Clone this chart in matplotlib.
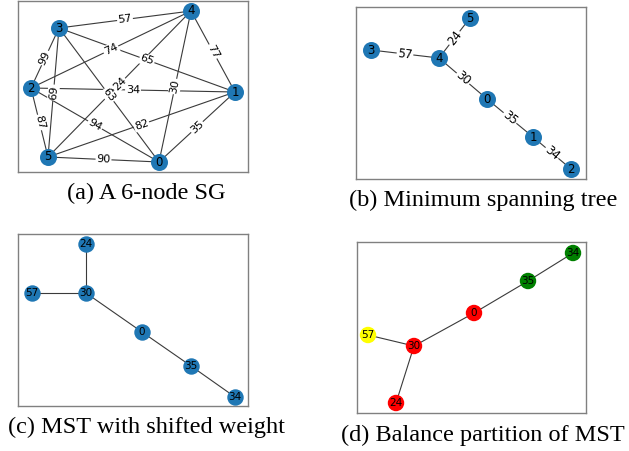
import matplotlib
matplotlib.use("Agg")
import matplotlib.pyplot as plt
import numpy as np

W, H = 629, 451

# node positions (pixel layout inside each panel), edges and weights
pos_a = {0: (159, 162), 1: (235, 92), 2: (31, 88), 3: (59, 28), 4: (191, 11), 5: (48, 157)}
edges_a = [(0, 1), (0, 2), (0, 3), (0, 4), (0, 5), (1, 2), (1, 3), (1, 4), (1, 5),
           (2, 3), (2, 4), (2, 5), (3, 4), (3, 5), (4, 5)]
weights_a = [35, 94, 63, 30, 90, 34, 65, 77, 82, 99, 74, 87, 57, 69, 24]

pos_b = {5: (470, 18), 3: (371, 50), 4: (439, 58), 0: (487, 99), 1: (533, 137), 2: (571, 169)}
edges_b = [(3, 4), (4, 5), (4, 0), (0, 1), (1, 2)]
weights_b = [57, 24, 30, 35, 34]

pos_c = {"24": (86, 244), "57": (32, 293), "30": (86, 293), "0": (142, 332),
         "35": (191, 366), "34": (235, 397)}
edges_c = [("24", "30"), ("57", "30"), ("30", "0"), ("0", "35"), ("35", "34")]

pos_d = {"34": (573, 253), "35": (528, 281), "0": (474, 313), "57": (368, 335),
         "30": (414, 346), "24": (396, 403)}
edges_d = [("34", "35"), ("35", "0"), ("0", "30"), ("30", "57"), ("30", "24")]
colors_d = {"34": "green", "35": "green", "0": "red", "57": "yellow", "30": "red", "24": "red"}

captions = ["(a) A 6-node SG", "(b) Minimum spanning tree",
            "(c) MST with shifted weight", "(d) Balance partition of MST"]

# panel frames in pixels: x0, x1, y0, y1 and caption centers
frames = [(18, 248, 1, 172), (356, 586, 7, 179), (18, 248, 234, 406), (357, 586, 242, 413)]
cap_xy = [(146, 193), (483, 200), (146, 427), (483, 435)]

fig = plt.figure(figsize=(W / 100, H / 100), dpi=100)


def make_ax(fr):
    x0, x1, y0, y1 = fr
    ax = fig.add_axes([x0 / W, 1 - y1 / H, (x1 - x0) / W, (y1 - y0) / H])
    ax.set_xlim(x0, x1)
    ax.set_ylim(y1, y0)
    ax.set_xticks([])
    ax.set_yticks([])
    for s in ax.spines.values():
        s.set_color("#808080")
        s.set_linewidth(1.0)
    return ax


def draw(ax, pos, edges, colors=None, node_s=120, font=7.5, weights=None, efont=7.5):
    for k, (u, v) in enumerate(edges):
        (x1, y1), (x2, y2) = pos[u], pos[v]
        ax.plot([x1, x2], [y1, y2], color="#3a3a3a", lw=0.8, zorder=1)
        if weights is not None:
            ang = np.degrees(np.arctan2(-(y2 - y1), x2 - x1))
            if ang > 90:
                ang -= 180
            if ang < -90:
                ang += 180
            ax.text((x1 + x2) / 2, (y1 + y2) / 2, str(weights[k]), fontsize=efont,
                    rotation=ang, rotation_mode="anchor", ha="center", va="center",
                    bbox=dict(boxstyle="round,pad=0.08", fc="white", ec="none"), zorder=2)
    names = list(pos.keys())
    xs = [pos[n][0] for n in names]
    ys = [pos[n][1] for n in names]
    cs = [colors[n] for n in names] if colors else "#1f77b4"
    ax.scatter(xs, ys, s=node_s, c=cs, zorder=3, linewidths=0)
    for n in names:
        ax.text(pos[n][0], pos[n][1], str(n), fontsize=font, ha="center", va="center", zorder=4)


axa = make_ax(frames[0])
draw(axa, pos_a, edges_a, weights=weights_a, node_s=150, font=8.5, efont=8)
axb = make_ax(frames[1])
draw(axb, pos_b, edges_b, weights=weights_b, node_s=150, font=8.5, efont=8.5)
axc = make_ax(frames[2])
draw(axc, pos_c, edges_c, node_s=140, font=7.5)
axd = make_ax(frames[3])
draw(axd, pos_d, edges_d, colors=colors_d, node_s=140, font=7.5)

for txt, (cx, cy) in zip(captions, cap_xy):
    fig.text(cx / W, 1 - cy / H, txt, ha="center", va="center",
             fontsize=17.5, family="Liberation Serif")

fig.savefig("out.png", dpi=100)
